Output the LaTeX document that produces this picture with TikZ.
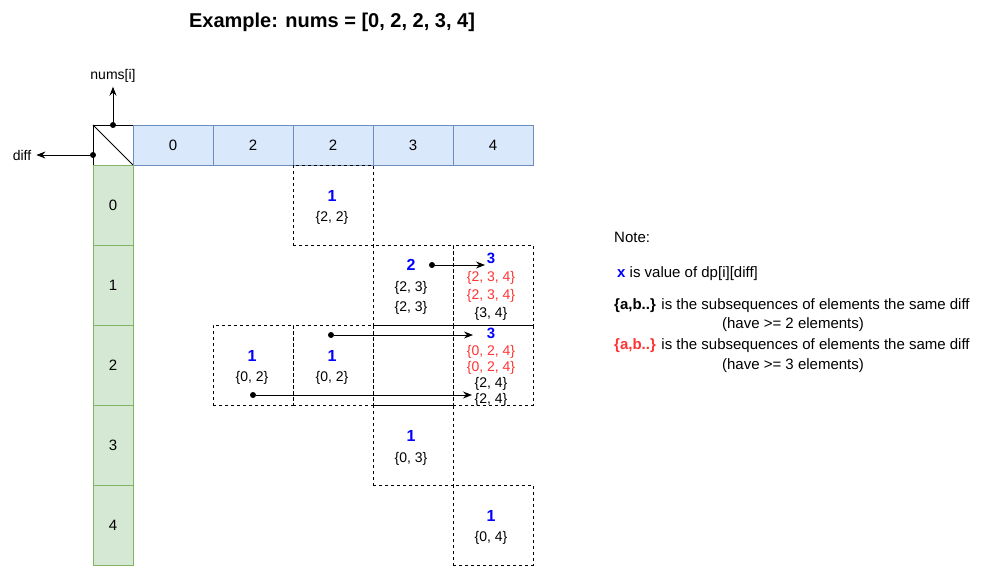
\documentclass[tikz,border=0pt]{standalone}
\usepackage{fontspec}
\setmainfont{Liberation Sans}
\usepackage{tikz}
\usetikzlibrary{arrows.meta,positioning}
\definecolor{headfill}{HTML}{DAE8FC}
\definecolor{headedge}{HTML}{6C8EBF}
\definecolor{difffill}{HTML}{D5E8D4}
\definecolor{diffedge}{HTML}{82B366}
\definecolor{valblue}{HTML}{0000FF}
\definecolor{subred}{HTML}{FF3333}
\newcommand{\st}[1]{\{#1\}}
\newcommand{\px}[1]{\fontsize{#1}{#1}\selectfont}

\begin{document}
\begin{tikzpicture}[
    x=1pt, y=-1pt,
    head/.style={draw=headedge, fill=headfill, line width=0.8pt, minimum width=80pt, minimum height=40pt, inner sep=0pt, outer sep=0pt, font=\px{15}},
    diffbox/.style={draw=diffedge, fill=difffill, line width=0.8pt, minimum width=40pt, minimum height=80pt, inner sep=0pt, outer sep=0pt, font=\px{15}},
    cell/.style={draw, dashed, line width=0.8pt, minimum size=80pt, inner sep=0pt, outer sep=0pt},
    val/.style={text=valblue, font=\bfseries\px{16}, inner sep=0pt},
    sub/.style={font=\px{14}, inner sep=0pt},
    note/.style={font=\px{15}, inner sep=0pt},
    dot/.style={circle, fill, inner sep=0pt, minimum size=6pt},
    arrow/.style={-{Stealth[length=9pt, width=7pt, inset=3pt]}, line width=0.9pt}
]
\useasboundingbox (0,0) rectangle (995,585);
\node[font=\bfseries\px{20}] (title) at (332,22) {Example: nums = [0, 2, 2, 3, 4]};

% Corner and axes
\node[draw, line width=0.8pt, minimum size=40pt, inner sep=0pt, outer sep=0pt] (corner) at (113,145) {};
\draw[line width=0.8pt] (corner.north west) -- (corner.south east);
\node[head, right=0pt of corner] (h0) {0};
\node[head, right=0pt of h0] (h1) {2};
\node[head, right=0pt of h1] (h2) {2};
\node[head, right=0pt of h2] (h3) {3};
\node[head, right=0pt of h3] (h4) {4};
\node[diffbox, below=0pt of corner] (d0) {0};
\node[diffbox, below=0pt of d0] (d1) {1};
\node[diffbox, below=0pt of d1] (d2) {2};
\node[diffbox, below=0pt of d2] (d3) {3};
\node[diffbox, below=0pt of d3] (d4) {4};

\node[dot] (pn) at (corner.north) {};
\node[font=\px{14}, inner sep=4pt] (lnums) at (113,76) {nums[i]};
\draw[arrow] (pn) -- (lnums);
\node[dot] (pd) at (93,155) {};
\node[font=\px{14}, inner sep=5pt] (ldiff) at (22,155) {diff};
\draw[arrow] (pd) -- (ldiff);

% dp cells
\node[cell] (c02) at (h2 |- d0) {};
\node[cell] (c13) at (h3 |- d1) {};
\node[cell] (c14) at (h4 |- d1) {};
\node[cell] (c21) at (h1 |- d2) {};
\node[cell] (c22) at (h2 |- d2) {};
\node[cell] (c23) at (h3 |- d2) {};
\node[cell] (c24) at (h4 |- d2) {};
\node[cell] (c33) at (h3 |- d3) {};
\node[cell] (c44) at (h4 |- d4) {};
\draw[line width=0.8pt] (c14.south west) -- (c14.south east);

\node[val] (v02) at (332,196) {1};
\node[sub] (s02) at (332,218) {\st{2, 2}};
\node[val] (v13) at (411,265) {2};
\node[sub] (s13a) at (411,288) {\st{2, 3}};
\node[sub] (s13b) at (411,308) {\st{2, 3}};
\node[val, font=\bfseries\px{15}] (v14) at (491,258) {3};
\node[sub, text=subred] (s14a) at (491,278) {\st{2, 3, 4}};
\node[sub, text=subred] (s14b) at (491,296) {\st{2, 3, 4}};
\node[sub] (s14c) at (491,314) {\st{3, 4}};
\node[val] (v21) at (252,356) {1};
\node[sub] (s21) at (252,378) {\st{0, 2}};
\node[val] (v22) at (332,356) {1};
\node[sub] (s22) at (332,378) {\st{0, 2}};
\node[val, font=\bfseries\px{15}] (v24) at (491,333) {3};
\node[sub, text=subred] (s24a) at (491,352) {\st{0, 2, 4}};
\node[sub, text=subred] (s24b) at (491,368) {\st{0, 2, 4}};
\node[sub] (s24c) at (491,384) {\st{2, 4}};
\node[sub] (s24d) at (491,400) {\st{2, 4}};
\node[val] (v33) at (411,436) {1};
\node[sub] (s33) at (411,459) {\st{0, 3}};
\node[val] (v44) at (491,516) {1};
\node[sub] (s44) at (491,538) {\st{0, 4}};

% Arrows between cells
\node[dot] (p1) at (432,265) {};
\coordinate (q1) at (485,265);
\draw[arrow] (p1) -- (q1);
\node[dot] (p2) at (331,335) {};
\coordinate (q2) at (473,335);
\draw[arrow] (p2) -- (q2);
\node[dot] (p3) at (253,395) {};
\coordinate (q3) at (472,395);
\draw[arrow] (p3) -- (q3);

% Note
\node[note, anchor=west] (n0) at (614,237) {Note:};
\node[note, anchor=west] (n1) at (617,274) {\textcolor{valblue}{\textbf{x}} is value of dp[i][diff]};
\node[note, anchor=west] (n2) at (614,306) {\textbf{\st{a,b..}} is the subsequences of elements the same diff};
\node[note] (n3) at (793,325) {(have >= 2 elements)};
\node[note, anchor=west] (n4) at (614,346) {\textcolor{subred}{\textbf{\st{a,b..}}} is the subsequences of elements the same diff};
\node[note] (n5) at (793,366) {(have >= 3 elements)};
\end{tikzpicture}
\end{document}
